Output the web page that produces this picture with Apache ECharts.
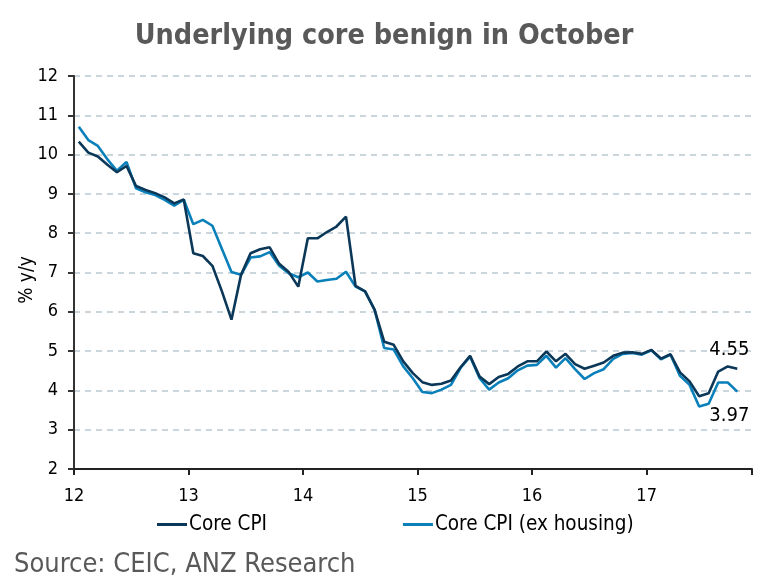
<!DOCTYPE html>
<html>
<head>
<meta charset="utf-8">
<script src="https://cdn.jsdelivr.net/npm/echarts@6/dist/echarts.min.js"></script>
<style>
html,body{margin:0;padding:0;background:#fff;}
#c{width:768px;height:585px;}
</style>
</head>
<body>
<div id="c"></div>
<script>
// Monthly observations Jan 2012 .. Oct 2017
var startYear = 2012;
var startMonth = 1;
var coreCPI = [10.33,10.05,9.95,9.74,9.55,9.71,9.20,9.10,9.02,8.91,8.76,8.86,
  7.49,7.42,7.17,6.52,5.80,6.94,7.49,7.59,7.64,7.22,7.01,6.64,
  7.87,7.87,8.03,8.17,8.42,6.66,6.52,6.05,5.24,5.16,4.74,4.44,
  4.21,4.14,4.17,4.25,4.59,4.88,4.35,4.16,4.34,4.42,4.61,4.74,
  4.74,4.99,4.74,4.93,4.67,4.55,4.63,4.71,4.88,4.96,4.97,4.93,
  5.03,4.81,4.92,4.46,4.23,3.85,3.93,4.48,4.61,4.55];
var coreExHousing = [10.71,10.37,10.22,9.88,9.59,9.81,9.14,9.04,8.97,8.85,8.70,8.85,
  8.23,8.34,8.19,7.60,7.01,6.94,7.38,7.41,7.52,7.17,6.98,6.88,
  7.00,6.77,6.81,6.84,7.02,6.64,6.52,6.05,5.08,5.04,4.61,4.31,
  3.96,3.93,4.02,4.14,4.57,4.86,4.31,4.02,4.20,4.31,4.51,4.63,
  4.65,4.88,4.58,4.82,4.54,4.29,4.44,4.54,4.80,4.93,4.95,4.91,
  5.02,4.79,4.91,4.37,4.14,3.59,3.66,4.20,4.20,3.97];
var seriesNames = ['Core CPI', 'Core CPI (ex housing)'];
var yTicks = [2,3,4,5,6,7,8,9,10,11,12];
var xTickLabels = ['12','13','14','15','16','17'];
var yAxisTitle = '% y/y';

// decimal year (two-digit) at mid-month
function xOf(i){
  var m = startMonth - 1 + i;
  return (startYear - 2000) + Math.floor(m/12) + ((m % 12) + 0.5)/12;
}
function toPairs(arr){ return arr.map(function(v,i){ return [xOf(i), v]; }); }

var FONT = "'DejaVu Sans Condensed','DejaVu Sans',sans-serif";
var DARK = '#0b3858';
var LIGHT = '#0a80ba';

var darkPairs = toPairs(coreCPI);
var lightPairs = toPairs(coreExHousing);
var darkLast = darkPairs[darkPairs.length-1];
var lightLast = lightPairs[lightPairs.length-1];

var chart = echarts.init(document.getElementById('c'), null, {renderer:'canvas'});
chart.setOption({
  animation:false,
  backgroundColor:'#fff',
  title:{
    text:'Underlying core benign in October',
    left:'center', top:17,
    textStyle:{fontFamily:FONT, fontSize:28.5, fontWeight:'bold', color:'#595959'}
  },
  grid:{left:74, top:76, right:16, bottom:116, containLabel:false},
  legend:{
    left:152, top:509,
    itemGap:136,
    itemWidth:30, itemHeight:3,
    icon:'rect',
    textStyle:{fontFamily:FONT, fontSize:20.5, color:'#000', padding:[0,0,0,-3]},
    data:seriesNames
  },
  graphic:[{
    type:'text', left:14, top:551,
    style:{text:'Source: CEIC, ANZ Research', fontFamily:FONT, fontSize:27, fill:'#595959'}
  },{
    type:'text', x:27, y:280, rotation:Math.PI/2,
    style:{text:yAxisTitle, fontFamily:FONT, fontSize:19, fill:'#000', textAlign:'center', textVerticalAlign:'middle'}
  }],
  xAxis:{
    type:'value', min:12, max:17.92, interval:1,
    axisLine:{show:true, onZero:false, lineStyle:{color:'#222', width:2}},
    axisTick:{show:true, length:6, lineStyle:{color:'#222', width:2}},
    axisLabel:{fontFamily:FONT, fontSize:18, color:'#000', margin:18,
      formatter:function(v){ var k = Math.round(v) - 12; return (Math.abs(v-Math.round(v))<1e-6 && xTickLabels[k]) ? xTickLabels[k] : ''; }},
    splitLine:{show:false}
  },
  yAxis:{
    type:'value', min:yTicks[0], max:yTicks[yTicks.length-1], interval:1,
    axisLine:{show:true, lineStyle:{color:'#333', width:2}},
    axisTick:{show:true, length:6, lineStyle:{color:'#333', width:2}},
    axisLabel:{fontFamily:FONT, fontSize:18, color:'#000', margin:16},
    splitLine:{show:true, lineStyle:{color:'#b9c9d1', type:[6,5], width:1.5}}
  },
  series:[
    {
      name:seriesNames[0], type:'line', data:darkPairs,
      showSymbol:false, symbol:'none', z:3,
      lineStyle:{color:DARK, width:2.6}, itemStyle:{color:DARK},
      markPoint:{
        symbol:'circle', symbolSize:1, itemStyle:{color:'rgba(0,0,0,0)'},
        label:{show:true, position:'top', distance:8, offset:[-8,0],
          fontFamily:FONT, fontSize:20, color:'#000',
          formatter:function(p){ return p.value.toFixed(2); }},
        data:[{coord:darkLast, value:darkLast[1]}]
      }
    },
    {
      name:seriesNames[1], type:'line', data:lightPairs,
      showSymbol:false, symbol:'none', z:2,
      lineStyle:{color:LIGHT, width:2.6}, itemStyle:{color:LIGHT},
      markPoint:{
        symbol:'circle', symbolSize:1, itemStyle:{color:'rgba(0,0,0,0)'},
        label:{show:true, position:'bottom', distance:14, offset:[-8,0],
          fontFamily:FONT, fontSize:20, color:'#000',
          formatter:function(p){ return p.value.toFixed(2); }},
        data:[{coord:lightLast, value:lightLast[1]}]
      }
    }
  ]
});
</script>
</body>
</html>
